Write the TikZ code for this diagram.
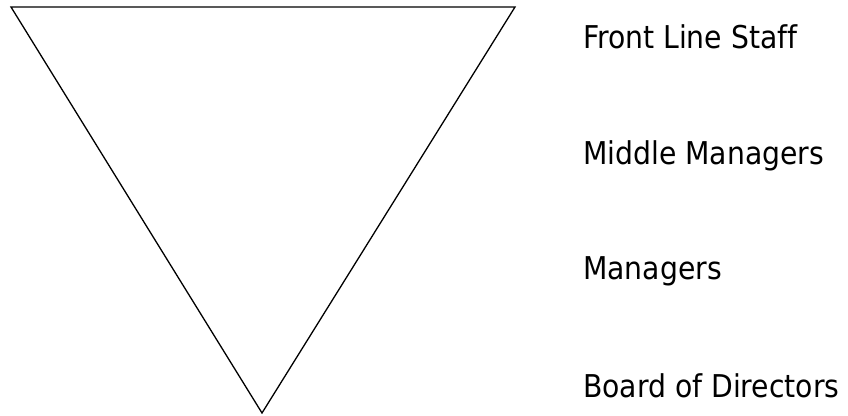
\documentclass[tikz,border=0pt]{standalone}
\usepackage{fontspec}
\setmainfont[Ligatures=CommonOff]{DejaVu Sans Condensed}
\begin{document}
\begin{tikzpicture}[x=1pt,y=1pt,
  lbl/.style={anchor=base west,inner sep=0pt,font=\fontsize{31.4}{36}\selectfont}]
\useasboundingbox (0,0) rectangle (848,415);
\coordinate (tl) at (11,408);
\coordinate (tr) at (515,408);
\coordinate (bt) at (262,2);
\draw[line width=1.3pt,line join=miter] (tl) -- (tr) -- (bt) -- cycle;
\node[lbl] (fls) at (583,366) {Front Line Staff};
\node[lbl] (mm) at (583,250) {Middle Managers};
\node[lbl] (m) at (583,135) {Managers};
\node[lbl] (bod) at (583,18) {Board of Directors};
\end{tikzpicture}
\end{document}
